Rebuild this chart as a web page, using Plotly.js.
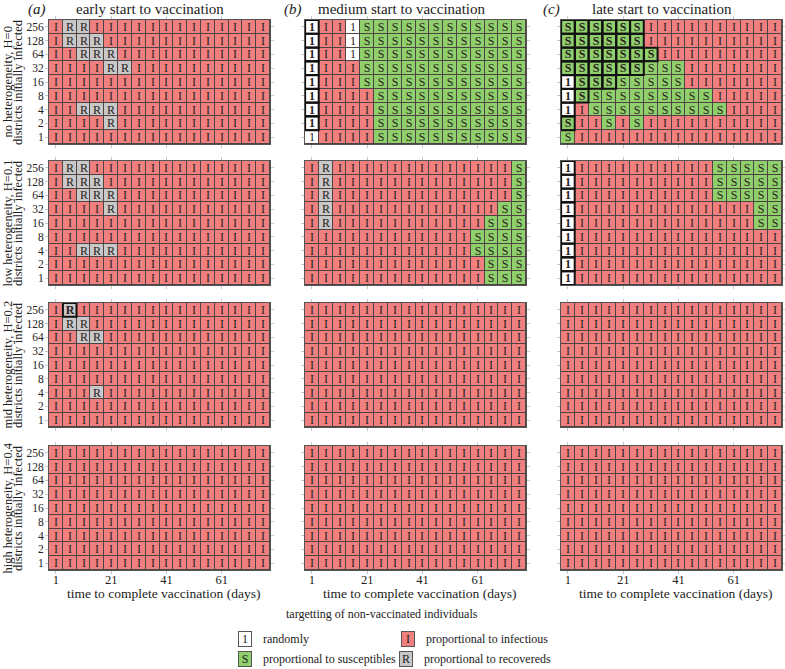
<!DOCTYPE html>
<html><head><meta charset="utf-8">
<script src="https://cdn.plot.ly/plotly-3.0.1.min.js"></script>
<style>html,body{margin:0;padding:0;background:#fff}</style>
</head><body><div id="chart" style="width:785px;height:669px"></div>
<script>
// ---------- data ----------
const days = [1,6,11,16,21,26,31,36,41,46,51,56,61,66,71,76];
const districts = ['256','128','64','32','16','8','4','2','1'];
const xTickVals = [1,21,41,61];
const startLabels = ['early start to vaccination','medium start to vaccination','late start to vaccination'];
const panelLetters = ['(a)','(b)','(c)'];
const heterogeneityLabels = ['no heterogeneity, H=0','low heterogeneity, H=0.1','mid heterogeneity, H=0.2','high heterogeneity, H=0.4'];
const yAxisSubtitle = 'districts initially infected';
const xAxisTitle = 'time to complete vaccination (days)';
const legendTitle = 'targetting of non-vaccinated individuals';
const strategyCodes = ['1','I','S','R'];
const strategyNames = ['randomly','proportional to infectious','proportional to susceptibles','proportional to recovereds'];

// best strategy per cell: '1' randomly, 'I' infectious, 'S' susceptibles, 'R' recovereds
// rows: 256,128,64,32,16,8,4,2,1 districts ; columns: days 1..76
const allI = 'IIIIIIIIIIIIIIII';
const early_H0 = ['IRRIIIIIIIIIIIII','IRRRIIIIIIIIIIII','IIRRRIIIIIIIIIII','IIIIRRIIIIIIIIII',allI,allI,'IIRRRIIIIIIIIIII','IIIIRIIIIIIIIIII',allI];
const early_H01 = ['IRRIIIIIIIIIIIII','IRRRIIIIIIIIIIII','IIRRRIIIIIIIIIII','IIIIRIIIIIIIIIII',allI,allI,'IIRRRIIIIIIIIIII',allI,allI];
const early_H02 = ['IRIIIIIIIIIIIIII','IRRIIIIIIIIIIIII','IIRRIIIIIIIIIIII',allI,allI,allI,'IIIRIIIIIIIIIIII',allI,allI];
const early_H04 = [allI,allI,allI,allI,allI,allI,allI,allI,allI];
const medium_H0 = ['1II1SSSSSSSSSSSS','1II1SSSSSSSSSSSS','1II1SSSSSSSSSSSS','1IIISSSSSSSSSSSS','1IIISSSSSSSSSSSS','1IIIISSSSSSSSSSS','1IIIISSSSSSSSSSS','1IIIISSSSSSSSSSS','1IIIISSSSSSSSSSS'];
const medium_H01 = ['IRIIIIIIIIIIIIIS','IRIIIIIIIIIIIIIS','IRIIIIIIIIIIIIIS','IRIIIIIIIIIIIISS','IRIIIIIIIIIIISSS','IIIIIIIIIIIISSSS','IIIIIIIIIIIISSSS','IIIIIIIIIIIIISSS','IIIIIIIIIIIIISSS'];
const medium_H02 = [allI,allI,allI,allI,allI,allI,allI,allI,allI];
const medium_H04 = [allI,allI,allI,allI,allI,allI,allI,allI,allI];
const late_H0 = ['SSSSSSIIIIIIIIII','SSSSSSIIIIIIIIII','SSSSSSSIIIIIIIII','SSSSSSSSSIIIIIII','1SSSSSSSSIIIIIII','1SSSSSSSSSSIIIII','1ISSSSSSSSSSIIII','SIISISIIIIIIIIII','SIIIIIIIIIIIIIII'];
const late_H01 = ['1IIIIIIIIIISSSSS','1IIIIIIIIIISSSSS','1IIIIIIIIIISSSSS','1IIIIIIIIIIIIISS','1IIIIIIIIIIIIISS','1IIIIIIIIIIIIIII','1IIIIIIIIIIIIIII','1IIIIIIIIIIIIIII','1IIIIIIIIIIIIIII'];
const late_H02 = [allI,allI,allI,allI,allI,allI,allI,allI,allI];
const late_H04 = [allI,allI,allI,allI,allI,allI,allI,allI,allI];

// highlighted (bold-outlined) cells: '#' marks a highlighted cell
const none = '................';
const early_H02_bold = ['.#..............',none,none,none,none,none,none,none,none];
const medium_H0_bold = ['#...............','#...............','#...............','#...............','#...............','#...............','#...............','#...............',none];
const late_H0_bold = ['######..........','######..........','#######.........','######..........','####............','##..............','#...............','#...............',none];
const late_H01_bold = ['#...............','#...............','#...............','#...............','#...............','#...............','#...............','#...............','#...............'];

const grids = [
  [early_H0, medium_H0, late_H0],
  [early_H01, medium_H01, late_H01],
  [early_H02, medium_H02, late_H02],
  [early_H04, medium_H04, late_H04]
];
const boldGrids = [
  [null, medium_H0_bold, late_H0_bold],
  [null, null, late_H01_bold],
  [early_H02_bold, null, null],
  [null, null, null]
];

// ---------- style ----------
const W = 785, H = 669;
const FONT = '"Liberation Serif", "Times New Roman", Times, serif';
const colors = {'1':'#ffffff','I':'#f08080','S':'#8fcf6c','R':'#c8c8c8'};
const colXpx = [[49,270],[305,526],[561,782]];
const rowYpx = [[20,144],[161,285],[303,427],[446,570]];
const px = v => v / W;
const py = v => 1 - v / H;

const codeValue = {'1':0,'I':1,'S':2,'R':3};
const colorscale = [
  [0,colors['1']],[0.1667,colors['1']],
  [0.1667,colors['I']],[0.5,colors['I']],
  [0.5,colors['S']],[0.8333,colors['S']],
  [0.8333,colors['R']],[1,colors['R']]
];

const data = [];
const layout = {
  width: W, height: H,
  margin: {l:0, r:0, t:0, b:0},
  paper_bgcolor: '#ffffff',
  plot_bgcolor: '#4e4444',
  showlegend: false,
  font: {family: FONT, size: 13, color: '#222'},
  annotations: []
};

for (let r = 0; r < 4; r++) {
  for (let c = 0; c < 3; c++) {
    const k = r * 3 + c + 1;
    const xa = k === 1 ? 'x' : 'x' + k;
    const ya = k === 1 ? 'y' : 'y' + k;
    const grid = grids[r][c];
    const bold = boldGrids[r][c];
    const z = grid.map(row => row.split('').map(ch => codeValue[ch]));
    const text = grid.map((row, i) => row.split('').map((ch, j) =>
      (bold && bold[i][j] === '#') ? '<b>' + ch + '</b>' : ch));
    data.push({
      type: 'heatmap', x: days, y: districts, z: z, text: text,
      texttemplate: '%{text}',
      textfont: {family: FONT, size: 12, color: '#2a2020'},
      colorscale: colorscale, zmin: 0, zmax: 3, showscale: false,
      xgap: 1, ygap: 1, hoverinfo: 'skip',
      xaxis: xa, yaxis: ya
    });
    if (bold) {
      const bx = [], by = [];
      bold.forEach((row, i) => row.split('').forEach((ch, j) => {
        if (ch === '#') { bx.push(days[j]); by.push(districts[i]); }
      }));
      data.push({
        type: 'scatter', mode: 'markers', x: bx, y: by,
        marker: {symbol: 'square-open', size: 13.6, color: '#111', line: {width: 2, color: '#111'}},
        hoverinfo: 'skip', xaxis: xa, yaxis: ya
      });
    }
    const axName = k === 1 ? '' : String(k);
    layout['xaxis' + axName] = {
      domain: [px(colXpx[c][0]), px(colXpx[c][1])],
      anchor: ya, range: [-1.5, 78.5], tickmode: 'array', tickvals: xTickVals,
      showticklabels: r === 3, ticks: 'outside', ticklen: 3, tickcolor: '#c8c8c8',
      ticklabelstandoff: -5,
      showline: true, linecolor: '#555', linewidth: 1, mirror: 'ticks',
      showgrid: false, zeroline: false, fixedrange: true,
      tickfont: {family: FONT, size: 12.5, color: '#222'}
    };
    layout['yaxis' + axName] = {
      domain: [py(rowYpx[r][1]), py(rowYpx[r][0])],
      anchor: xa, type: 'category', range: [districts.length - 0.5, -0.5],
      tickmode: 'array', tickvals: districts, ticktext: districts,
      showticklabels: c === 0, ticks: 'outside', ticklen: 3, tickcolor: '#c8c8c8',
      ticklabelstandoff: -1,
      showline: true, linecolor: '#555', linewidth: 1, mirror: 'ticks',
      showgrid: false, zeroline: false, fixedrange: true,
      tickfont: {family: FONT, size: 11.5, color: '#222'}
    };
  }
}

// column titles
const titleX = [150, 402, 662];
const letterX = [37, 293, 551];
for (let c = 0; c < 3; c++) {
  layout.annotations.push({xref:'paper', yref:'paper', x: px(titleX[c]), y: py(9), text: startLabels[c],
    showarrow:false, xanchor:'center', yanchor:'middle', font:{family:FONT, size:15, color:'#222'}});
  layout.annotations.push({xref:'paper', yref:'paper', x: px(letterX[c]), y: py(9), text: '<i>' + panelLetters[c] + '</i>',
    showarrow:false, xanchor:'center', yanchor:'middle', font:{family:FONT, size:15, color:'#222'}});
  layout.annotations.push({xref:'paper', yref:'paper', x: px((colXpx[c][0] + colXpx[c][1]) / 2 + 4), y: py(593), text: xAxisTitle,
    showarrow:false, xanchor:'center', yanchor:'middle', font:{family:FONT, size:13.5, color:'#222'}});
}
// row labels (two rotated lines)
for (let r = 0; r < 4; r++) {
  const yc = py((rowYpx[r][0] + rowYpx[r][1]) / 2);
  layout.annotations.push({xref:'paper', yref:'paper', x: px(7.5), y: yc,
    text: heterogeneityLabels[r], textangle: -90,
    showarrow:false, xanchor:'center', yanchor:'middle', font:{family:FONT, size:12.5, color:'#222'}});
  layout.annotations.push({xref:'paper', yref:'paper', x: px(18), y: yc,
    text: yAxisSubtitle, textangle: -90,
    showarrow:false, xanchor:'center', yanchor:'middle', font:{family:FONT, size:12.5, color:'#222'}});
}
// legend
layout.annotations.push({xref:'paper', yref:'paper', x: px(382), y: py(614), text: legendTitle,
  showarrow:false, xanchor:'center', yanchor:'middle', font:{family:FONT, size:12, color:'#222'}});
const legBoxX = [245, 408, 245, 406];
const legY = [639, 639, 659, 659];
[0, 1, 2, 3].forEach((i, n) => {
  const code = strategyCodes[i];
  layout.annotations.push({xref:'paper', yref:'paper', x: px(legBoxX[n]), y: py(legY[n]), text: code,
    showarrow:false, xanchor:'center', yanchor:'middle', width: 12, height: 14,
    bgcolor: colors[code], bordercolor: '#555', borderwidth: 1, borderpad: 0,
    font:{family:FONT, size:12, color:'#222'}});
  layout.annotations.push({xref:'paper', yref:'paper', x: px(legBoxX[n] + 16), y: py(legY[n]), text: strategyNames[i],
    showarrow:false, xanchor:'left', yanchor:'middle', font:{family:FONT, size:12, color:'#222'}});
});

Plotly.newPlot('chart', data, layout, {staticPlot: true, displayModeBar: false});
</script>
</body></html>
